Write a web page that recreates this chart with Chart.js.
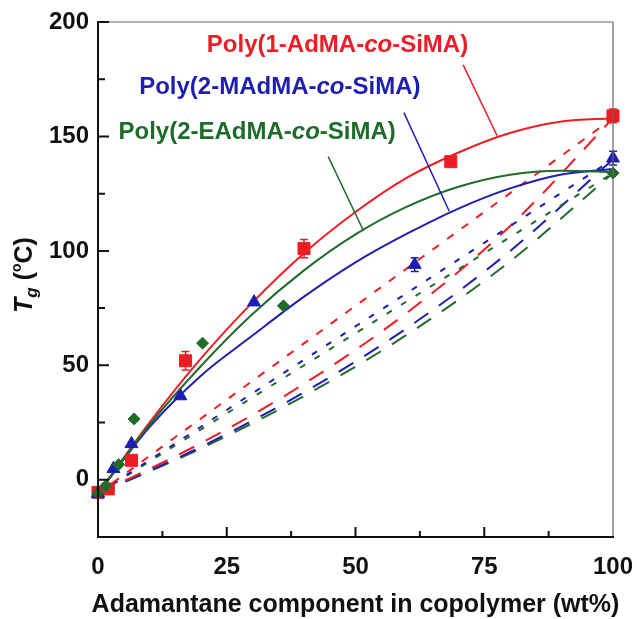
<!DOCTYPE html>
<html>
<head>
<meta charset="utf-8">
<script src="https://cdn.jsdelivr.net/npm/chart.js@4.4.0/dist/chart.umd.min.js"></script>
<style>
  html, body { margin: 0; padding: 0; background: #fff; }
</style>
</head>
<body>
<canvas id="tgChart" width="637" height="619"></canvas>
<script>
// measured points (wt% adamantane component, Tg in degC)
const redX = [0, 2, 6.5, 17, 40, 68.5, 100];
const redY = [-5.5, -4, 8.5, 52, 101, 139, 159];
const redErr = [0, 0, 0, 4, 4, 0, 3];

const blueX = [0, 3, 6.5, 16, 30.3, 61.5, 100];
const blueY = [-6, 4.8, 15.7, 36.6, 77.6, 94, 140.5];
const blueErr = [0, 0, 0, 0, 0, 3, 3];

const greenX = [0, 1.5, 4, 7, 20.3, 36, 100];
const greenY = [-6, -2.7, 6.6, 26.6, 59.7, 76, 134];

// solid fit curves
const fitX = [0, 10, 20, 30, 40, 50, 60, 70, 80, 90, 100];
const redFit = [-6, 25, 53, 77.5, 99, 117, 132, 143, 151.5, 156.5, 158];
const blueFit = [-6, 23, 45.5, 63, 80, 95, 107.5, 118.5, 127.3, 133.4, 135.8];
const greenFit = [-6, 24, 49.7, 72.4, 91.5, 107.2, 119.3, 128, 133.3, 135, 134.5];

// dashed lines: short dashes (straight) and long dashes (curved)
const linX = [0, 100];
const redLin = [-6, 158];
const blueLin = [-6, 140];
const greenLin = [-6, 134];

const foxX = [0, 20, 40, 60, 80, 100];
const redFox = [-6, 16, 41.9, 73, 110.8, 158];
const blueFox = [-6, 14.4, 38.2, 66.3, 99.9, 140];
const greenFox = [-6, 13.7, 36.6, 63.4, 95.4, 134];

const xTicks = [0, 25, 50, 75, 100];
const xMinor = [12.5, 37.5, 62.5, 87.5];
const yTicks = [0, 50, 100, 150, 200];
const yMinor = [25, 75, 125, 175];

const RED = '#ee1c24';
const BLUE = '#1e1eb0';
const GREEN = '#1f6b2c';
const FONT = "'Liberation Sans', Arial, sans-serif";

const pts = (xs, ys) => xs.map((x, i) => ({ x: x, y: ys[i] }));

function lineSet(xs, ys, color, dash, order) {
    return {
        data: pts(xs, ys), showLine: true, borderColor: color, borderWidth: 2,
        borderDash: dash, pointRadius: 0, cubicInterpolationMode: 'monotone',
        fill: false, order: order
    };
}

function markerSet(xs, ys, color, style, r) {
    return {
        data: pts(xs, ys), showLine: false, pointStyle: style, pointRadius: r,
        pointBackgroundColor: color, pointBorderColor: color, pointBorderWidth: 1,
        clip: false, order: 0
    };
}

// error bars, pointer lines, labels, frame and inward ticks
const decor = {
    id: 'decor',
    afterDatasetsDraw(chart) {
        const { ctx, scales: { x, y } } = chart;
        const bars = [[redX, redY, redErr, RED], [blueX, blueY, blueErr, BLUE]];
        ctx.save();
        ctx.lineWidth = 1.5;
        bars.forEach(([xs, ys, es, c]) => {
            ctx.strokeStyle = c;
            xs.forEach((v, i) => {
                if (!es[i]) return;
                const px = x.getPixelForValue(v);
                const top = y.getPixelForValue(ys[i] + es[i]);
                const bot = y.getPixelForValue(ys[i] - es[i]);
                ctx.beginPath();
                ctx.moveTo(px, top); ctx.lineTo(px, bot);
                ctx.moveTo(px - 4, top); ctx.lineTo(px + 4, top);
                ctx.moveTo(px - 4, bot); ctx.lineTo(px + 4, bot);
                ctx.stroke();
            });
        });
        ctx.restore();
    },
    afterDraw(chart, args, opts) {
        const { ctx, chartArea: a, scales: { x, y } } = chart;
        ctx.save();

        // frame
        ctx.strokeStyle = '#666';
        ctx.lineWidth = 1.2;
        ctx.beginPath();
        ctx.moveTo(a.left, a.top); ctx.lineTo(a.right, a.top); ctx.lineTo(a.right, a.bottom);
        ctx.stroke();
        ctx.strokeStyle = '#111';
        ctx.lineWidth = 2;
        ctx.beginPath();
        ctx.moveTo(a.left, a.top - 1); ctx.lineTo(a.left, a.bottom); ctx.lineTo(a.right + 1, a.bottom);
        ctx.stroke();

        // inward ticks
        ctx.beginPath();
        xTicks.slice(1, -1).forEach(v => { const p = x.getPixelForValue(v); ctx.moveTo(p, a.bottom); ctx.lineTo(p, a.bottom - 10); });
        xMinor.forEach(v => { const p = x.getPixelForValue(v); ctx.moveTo(p, a.bottom); ctx.lineTo(p, a.bottom - 6); });
        yTicks.forEach(v => { const p = y.getPixelForValue(v); ctx.moveTo(a.left, p); ctx.lineTo(a.left + 11, p); });
        yMinor.forEach(v => { const p = y.getPixelForValue(v); ctx.moveTo(a.left, p); ctx.lineTo(a.left + 7, p); });
        ctx.stroke();

        // series labels with pointer lines
        ctx.textBaseline = 'middle';
        ctx.textAlign = 'left';
        opts.labels.forEach(l => {
            ctx.strokeStyle = l.color;
            ctx.lineWidth = 1.5;
            ctx.beginPath();
            ctx.moveTo(x.getPixelForValue(l.from[0]), y.getPixelForValue(l.from[1]));
            ctx.lineTo(x.getPixelForValue(l.to[0]), y.getPixelForValue(l.to[1]));
            ctx.stroke();

            const fonts = ['bold 24px ' + FONT, 'italic bold 24px ' + FONT, 'bold 24px ' + FONT];
            let w = 0;
            l.parts.forEach((s, i) => { ctx.font = fonts[i]; w += ctx.measureText(s).width; });
            let cx = x.getPixelForValue(l.x) - w / 2;
            const cy = y.getPixelForValue(l.y);
            ctx.fillStyle = l.color;
            l.parts.forEach((s, i) => {
                ctx.font = fonts[i];
                ctx.fillText(s, cx, cy);
                cx += ctx.measureText(s).width;
            });
        });

        // x axis title
        ctx.fillStyle = '#111';
        ctx.textAlign = 'center';
        ctx.font = 'bold 25px ' + FONT;
        ctx.fillText('Adamantane component in copolymer (wt%)', (a.left + a.right) / 2, 605);

        // y axis title: T_g (oC)
        ctx.translate(32, 275);
        ctx.rotate(-Math.PI / 2);
        ctx.textBaseline = 'alphabetic';
        const segs = [
            { t: 'T', f: 'italic bold 25px ' + FONT, dy: 0 },
            { t: 'g', f: 'italic bold 17px ' + FONT, dy: 5 },
            { t: ' (', f: 'bold 25px ' + FONT, dy: 0 },
            { t: 'o', f: 'bold 14px ' + FONT, dy: -11 },
            { t: 'C)', f: 'bold 25px ' + FONT, dy: 0 }
        ];
        let tw = 0;
        segs.forEach(s => { ctx.font = s.f; tw += ctx.measureText(s.t).width; });
        let tx = -tw / 2;
        ctx.textAlign = 'left';
        segs.forEach(s => {
            ctx.font = s.f;
            ctx.fillText(s.t, tx, s.dy);
            tx += ctx.measureText(s.t).width;
        });
        ctx.restore();
    }
};

new Chart(document.getElementById('tgChart'), {
    type: 'scatter',
    data: {
        datasets: [
            lineSet(linX, redLin, RED, [8, 10], 5),
            lineSet(linX, blueLin, BLUE, [6, 11], 5),
            lineSet(linX, greenLin, GREEN, [6, 11], 5),
            lineSet(foxX, redFox, RED, [17, 13], 5),
            lineSet(foxX, blueFox, BLUE, [17, 13], 5),
            lineSet(foxX, greenFox, GREEN, [17, 13], 5),
            lineSet(fitX, greenFit, GREEN, [], 2),
            lineSet(fitX, blueFit, BLUE, [], 2),
            lineSet(fitX, redFit, RED, [], 2),
            markerSet(greenX, greenY, GREEN, 'rectRot', 6),
            markerSet(blueX, blueY, BLUE, 'triangle', 7.5),
            markerSet(redX, redY, RED, 'rect', 8.5)
        ]
    },
    options: {
        responsive: false,
        animation: false,
        layout: { padding: { top: 22, right: 24, left: 0, bottom: 0 } },
        plugins: {
            legend: { display: false },
            tooltip: { enabled: false },
            decor: {
                labels: [
                    { parts: ['Poly(1-AdMA-', 'co', '-SiMA)'], color: RED, x: 46.5, y: 190, from: [70.9, 181.3], to: [77.5, 150.3] },
                    { parts: ['Poly(2-MAdMA-', 'co', '-SiMA)'], color: BLUE, x: 35.3, y: 171.3, from: [59.4, 160.4], to: [68.2, 117.3] },
                    { parts: ['Poly(2-EAdMA-', 'co', '-SiMA)'], color: GREEN, x: 30.9, y: 151.7, from: [44.7, 141.2], to: [51.5, 109] }
                ]
            }
        },
        scales: {
            x: {
                type: 'linear', min: 0, max: 100,
                afterFit: s => { s.height = 82; s.paddingLeft = 0; s.paddingRight = 0; },
                afterBuildTicks: s => { s.ticks = xTicks.map(v => ({ value: v })); },
                grid: { display: false, drawTicks: false },
                border: { display: false },
                ticks: { padding: 16, color: '#111', maxRotation: 0, font: { family: FONT, size: 24, weight: 'bold' } }
            },
            y: {
                type: 'linear', min: -25, max: 200,
                afterFit: s => { s.width = 98; s.paddingTop = 0; s.paddingBottom = 0; },
                afterBuildTicks: s => { s.ticks = yTicks.map(v => ({ value: v })); },
                grid: { display: false, drawTicks: false },
                border: { display: false },
                ticks: { padding: 9, color: '#111', font: { family: FONT, size: 24, weight: 'bold' } }
            }
        }
    },
    plugins: [decor]
});
</script>
</body>
</html>
